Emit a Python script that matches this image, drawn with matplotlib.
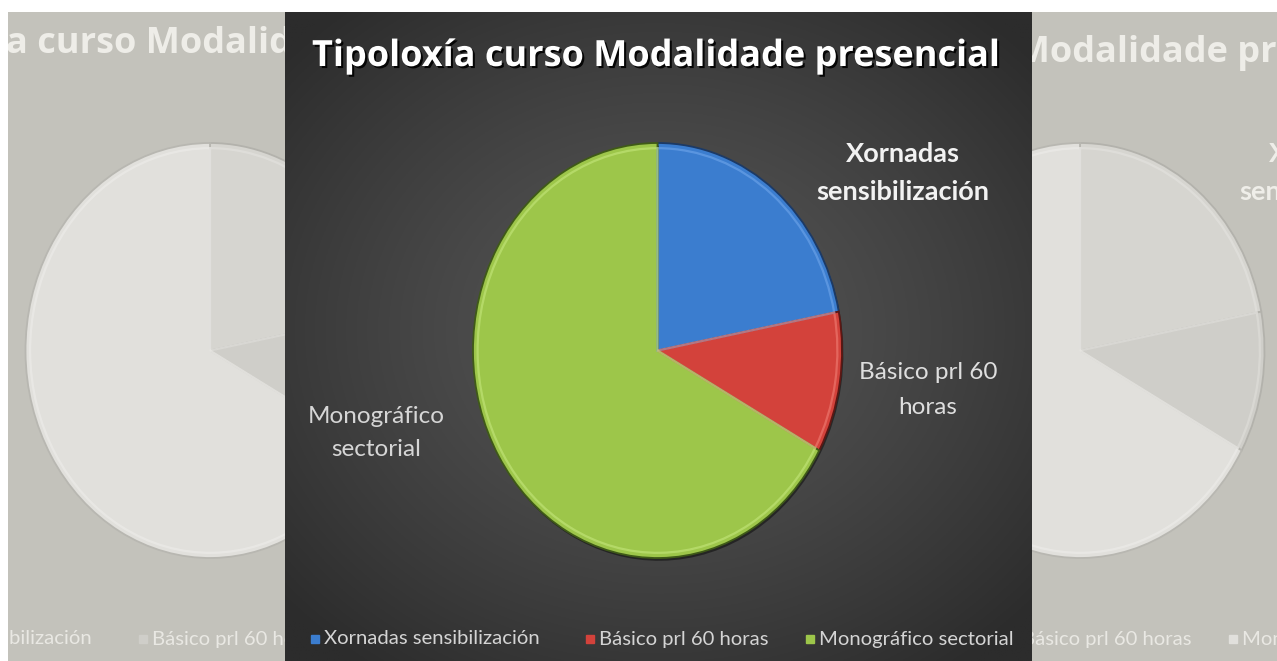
import numpy as np
import matplotlib
matplotlib.use("Agg")
import matplotlib.pyplot as plt
import matplotlib.patheffects as pe

# ---------------- data ----------------
title = "Tipoloxía curso Modalidade presencial"
categories = ["Xornadas sensibilización", "Básico prl 60 horas", "Monográfico sectorial"]
slice_labels = ["Xornadas\nsensibilización", "Básico prl 60\nhoras", "Monográfico\nsectorial"]
values = [22, 11, 67]

# ---------------- layout (pixels) ----------------
W, H = 1277, 661
CX, CY, RX, RY = 657.5, 350.5, 184.5, 207.5        # main pie ellipse
TITLE_XY = (656.5, 66)
LABEL_XY = [(903, 173), (928, 390), (376, 433)]
LABEL_SIZE = [19.5, 17.5, 17.5]
LABEL_LS = [1.7, 1.8, 1.7]
LEGEND_Y = 639
LEGEND_X = [315, 590, 810]

LABEL_FONT = ["Lato", "DejaVu Sans"]
TITLE_FONT = ["Open Sans", "DejaVu Sans"]

fig = plt.figure(figsize=(W / 100, H / 100), dpi=100, facecolor="white")


def N(px, py):
    return (px - CX) / RX, (CY - py) / RY


def panel(L, R, T, B, shift, theme, title_dy=0):
    ax = fig.add_axes([L / W, 1 - B / H, (R - L) / W, (B - T) / H])
    x0 = (L - shift - CX) / RX
    x1 = (R - shift - CX) / RX
    y0 = (CY - B) / RY
    y1 = (CY - T) / RY

    main = theme == "main"
    if main:
        cols = ["#3b7dcf", "#d3423b", "#9dc64a"]
        edges = ["#1c3a66", "#5e1713", "#3f5a17"]
        hls = ["#75aaee", "#f3847a", "#c8ea80"]
        tcol = "#ffffff"
        lab_cols = ["#f2f2f2", "#dedede", "#d6d6d6"]
        leg_col = "#d4d4d4"
    else:
        cols = ["#d6d5d0", "#cfcec9", "#e1e0dc"]
        edges = ["#b3b2ac", "#b3b2ac", "#b8b7b1"]
        hls = ["#e6e5e1", "#e2e1dd", "#efeeeb"]
        tcol = "#eeede8"
        lab_cols = ["#efeee9", "#efeee9", "#efeee9"]
        leg_col = "#e9e8e3"

    # background
    if main:
        u = np.linspace(L, R, 400)
        v = np.linspace(T, B, 400)
        U, V = np.meshgrid(u, v)
        d = np.sqrt(((U - 660) / 500) ** 2 + ((V - 330) / 420) ** 2)
        d = np.clip(d, 0, 1)
        g = (0x56 - (0x56 - 0x2c) * d ** 1.3) / 255.0
        img = np.dstack([g, g, g])
        ax.imshow(img, extent=(x0, x1, y0, y1), origin="upper", aspect="auto", zorder=0)

    wedges, _ = ax.pie(values, colors=cols, startangle=90, counterclock=False,
                       radius=1, center=(0, 0),
                       wedgeprops=dict(linewidth=1.3))
    for w, ec in zip(wedges, edges):
        w.set_edgecolor(ec)
        w.set_zorder(2)
        if main:
            w.set_path_effects([pe.withSimplePatchShadow(offset=(1, -2), shadow_rgbFace="black", alpha=0.45)])
    hw, _ = ax.pie(values, colors=["none"] * 3, startangle=90, counterclock=False,
                   radius=0.975, center=(0, 0),
                   wedgeprops=dict(linewidth=1.6, alpha=0.55))
    for w, ec in zip(hw, hls):
        w.set_edgecolor(ec)
        w.set_facecolor("none")
        w.set_zorder(3)

    # title
    tx, ty = TITLE_XY
    t = ax.text(*N(tx, ty + title_dy), title, ha="center", va="baseline", fontsize=26,
                fontweight="bold", family=TITLE_FONT, color=tcol, clip_on=True, zorder=5)
    if main:
        t.set_path_effects([pe.withSimplePatchShadow(offset=(1.5, -1.5), shadow_rgbFace="black", alpha=0.9)])

    # slice labels
    for i, (lab, (px, py)) in enumerate(zip(slice_labels, LABEL_XY)):
        ax.text(*N(px, py), lab, ha="center", va="center", fontsize=LABEL_SIZE[i],
                fontweight="bold" if i == 0 else "normal", family=LABEL_FONT,
                color=lab_cols[i], linespacing=LABEL_LS[i], clip_on=True, zorder=5)

    # legend
    for cat, col, lx in zip(categories, cols, LEGEND_X):
        ax.plot(*N(lx, LEGEND_Y), marker="s", ms=5.5, color=col, mec=col, zorder=5)
        ax.text(*N(lx + 9, LEGEND_Y), cat, ha="left", va="center", fontsize=14.6,
                family=LABEL_FONT, color=leg_col, clip_on=True, zorder=5)

    ax.set_xlim(x0, x1)
    ax.set_ylim(y0, y1)
    ax.set_aspect("auto")
    ax.set_xticks([])
    ax.set_yticks([])
    ax.set_frame_on(True)
    ax.set_facecolor("#2c2c2c" if main else "#c3c2bb")
    for s in ax.spines.values():
        s.set_visible(False)
    return ax


panel(8, 285, 12, 661, -447.5, "side", title_dy=-13)
panel(1032, 1277, 12, 661, 422.5, "side", title_dy=-4)
panel(285, 1032, 12, 661, 0, "main")

fig.savefig("out.png", dpi=100, facecolor="white")
